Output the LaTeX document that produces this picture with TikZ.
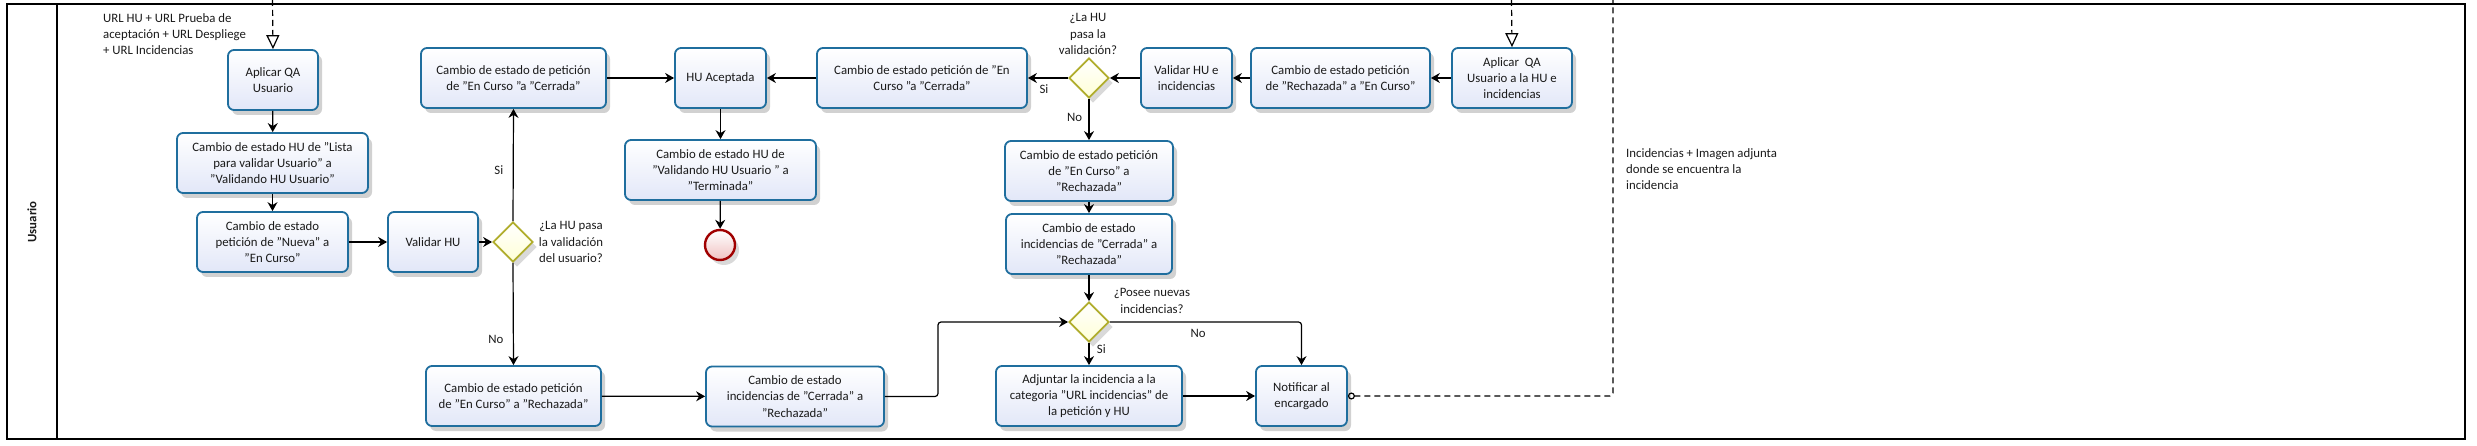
\documentclass[tikz,border=0pt]{standalone}
\usepackage{fontspec}
\setmainfont{Carlito}
\usetikzlibrary{arrows.meta,shapes.geometric,shadows}
\definecolor{boxblue}{HTML}{1F6E9E}
\definecolor{boxfill}{HTML}{E2E7F8}
\definecolor{dborder}{HTML}{B0AD2C}
\definecolor{dfill}{HTML}{FFFFD6}
\definecolor{endred}{HTML}{A00000}
\definecolor{endfill}{HTML}{F0C2C2}
\definecolor{txt}{HTML}{1A1A1A}
\begin{document}
\begin{tikzpicture}[x=1pt,y=-1pt,
  font=\fontsize{12.8}{16.3}\selectfont,
  every node/.style={text=txt},
  task/.style={draw=boxblue, line width=1.8pt, rounded corners=6pt,
    top color=white, bottom color=boxfill, align=center, inner sep=2pt,
    drop shadow={shadow xshift=4pt, shadow yshift=-5pt, opacity=0.18, fill=black}},
  gate/.style={diamond, draw=dborder, line width=1.8pt, top color=white, bottom color=dfill,
    minimum width=40pt, minimum height=40pt, inner sep=0pt,
    drop shadow={shadow xshift=4pt, shadow yshift=-5pt, opacity=0.15, fill=black}},
  endev/.style={circle, draw=endred, line width=2.4pt, top color=white, bottom color=endfill,
    minimum size=30pt, inner sep=0pt,
    drop shadow={shadow xshift=4pt, shadow yshift=-5pt, opacity=0.15, fill=black}},
  flow/.style={line width=1.2pt, -{Stealth[length=9pt,width=10pt,inset=3pt]}, rounded corners=3pt},
  msg/.style={line width=1.2pt, dash pattern=on 6pt off 4pt},
  lbl/.style={align=center, inner sep=0pt},
  note/.style={align=left, inner sep=0pt, anchor=north west}
]
\useasboundingbox (0,0) rectangle (2477,446);
% frame and lane
\draw[line width=1.5pt] (7,4) rectangle (2465,439);
\draw[line width=1.5pt] (57,4) -- (57,439);
\node[rotate=90, font=\bfseries\fontsize{12.8}{16}\selectfont] (lane) at (32,222) {Usuario};

% tasks
\node[task, minimum width=90pt, minimum height=60pt] (qa1) at (273,80) {Aplicar QA\\Usuario};
\node[task, minimum width=191pt, minimum height=60pt] (hu1) at (272.5,163) {Cambio de estado HU de "Lista\\para validar Usuario" a\\"Validando HU Usuario"};
\node[task, minimum width=151pt, minimum height=60pt] (pet1) at (272.5,242) {Cambio de estado\\petición de "Nueva" a\\"En Curso"};
\node[task, minimum width=90pt, minimum height=60pt] (val1) at (433,242) {Validar HU};
\node[gate] (dia1) at (513,242) {};
\node[task, minimum width=185pt, minimum height=60pt] (cer1) at (513.5,78) {Cambio de estado de petición\\de "En Curso "a "Cerrada"};
\node[task, minimum width=175pt, minimum height=60pt] (rech1) at (513.5,396) {Cambio de estado petición\\de "En Curso" a "Rechazada"};
\node[task, minimum width=178pt, minimum height=60pt] (inc1) at (795,396.5) {Cambio de estado\\incidencias de "Cerrada" a\\"Rechazada"};
\node[task, minimum width=91pt, minimum height=60pt] (acep) at (720.5,78) {HU Aceptada};
\node[task, minimum width=191pt, minimum height=60pt] (term) at (720.5,170) {Cambio de estado HU de\\"Validando HU Usuario " a\\"Terminada"};
\node[endev] (fin) at (720,245) {};
\node[task, minimum width=210pt, minimum height=60pt] (cer2) at (922,78) {Cambio de estado petición de "En\\Curso "a "Cerrada"};
\node[gate] (dia2) at (1089,78) {};
\node[task, minimum width=91pt, minimum height=60pt] (val2) at (1186.5,78) {Validar HU e\\incidencias};
\node[task, minimum width=179pt, minimum height=60pt] (rech2a) at (1340.5,78) {Cambio de estado petición\\de "Rechazada" a "En Curso"};
\node[task, minimum width=120pt, minimum height=60pt] (qa2) at (1512,78) {Aplicar \ QA\\Usuario a la HU e\\incidencias};
\node[task, minimum width=168pt, minimum height=60pt] (rech2) at (1089,171) {Cambio de estado petición\\de "En Curso" a\\"Rechazada"};
\node[task, minimum width=166pt, minimum height=60pt] (inc2) at (1089,244) {Cambio de estado\\incidencias de "Cerrada" a\\"Rechazada"};
\node[gate] (dia3) at (1089,322) {};
\node[task, minimum width=186pt, minimum height=60pt] (adj) at (1089,396) {Adjuntar la incidencia a la\\categoria "URL incidencias" de\\la petición y HU};
\node[task, minimum width=91pt, minimum height=60pt] (notif) at (1301.5,396) {Notificar al\\encargado};

% gateway labels
\node[lbl] (q1) at (571,242) {¿La HU pasa\\la validación\\del usuario?};
\node[lbl] (q2) at (1088,34) {¿La HU\\pasa la\\validación?};
\node[lbl] (q3) at (1152,301) {¿Posee nuevas\\incidencias?};

% annotations
\node[note] (a1) at (103,13) {URL HU + URL Prueba de\\aceptación + URL Despliege\\+ URL Incidencias};
\node[note] (a2) at (1626,148) {Incidencias + Imagen adjunta\\donde se encuentra la\\incidencia};

% coordinates for free ends
\coordinate (m1) at (272.5,0);
\coordinate (m2) at (1511.5,0);
\coordinate (m3) at (1613,0);

% message flows
\draw[msg, -{Triangle[open,length=14pt,width=13pt]}] (m1) -- (qa1.north);
\draw[msg, -{Triangle[open,length=14pt,width=13pt]}] (m2) -- (qa2.north);
\draw[msg, {Circle[open,length=7pt,width=7pt]}-, rounded corners=3pt] (notif.east) -| (m3);

% sequence flows
\draw[flow] (qa1) -- (hu1);
\draw[flow] (hu1) -- (pet1);
\draw[flow] (pet1) -- (val1);
\draw[flow] (val1) -- (dia1);
\draw[flow] (dia1.north) -- node[pos=0.45, left=6pt] (si1) {Si} (cer1.south);
\draw[flow] (dia1.south) -- node[pos=0.75, left=6pt] (no1) {No} (rech1.north);
\draw[flow] (cer1) -- (acep);
\draw[flow] (acep) -- (term);
\draw[flow] (term) -- (fin);
\draw[flow] (cer2) -- (acep);
\draw[flow] (dia2.west) -- node[pos=0.6, below=3pt] (si2) {Si} (cer2.east);
\draw[flow] (val2) -- (dia2);
\draw[flow] (rech2a) -- (val2);
\draw[flow] (qa2) -- (rech2a);
\draw[flow] (dia2.south) -- node[pos=0.45, left=3pt] (no2) {No} (rech2.north);
\draw[flow] (rech2) -- (inc2);
\draw[flow] (inc2) -- (dia3);
\draw[flow] (rech1) -- (inc1);
\draw[flow] (inc1.east) -- (938,396.5) -- (938,322) -- (dia3.west);
\draw[flow] (dia3.south) -- node[pos=0.3, right=4pt] (si3) {Si} (adj.north);
\draw[flow] (dia3.east) -| node[pos=0.23, below=3pt] (no3) {No} (notif.north);
\draw[flow] (adj) -- (notif);
\end{tikzpicture}
\end{document}
